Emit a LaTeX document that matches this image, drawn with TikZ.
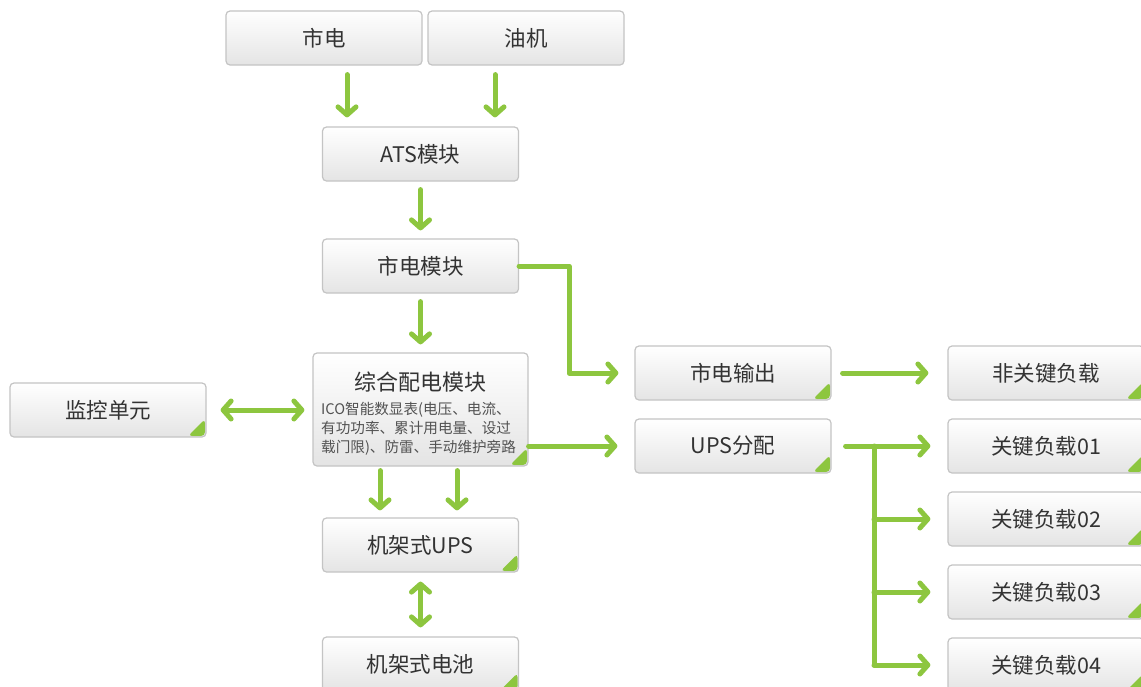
\documentclass[tikz,border=0pt]{standalone}
\usepackage{fontspec}
\newfontfamily\cjk{Noto Sans CJK SC}
\usetikzlibrary{arrows.meta,calc}
\definecolor{grn}{HTML}{8DC63F}
\definecolor{boxline}{HTML}{C4C4C4}
\definecolor{boxbot}{HTML}{E4E4E4}
\definecolor{txt}{HTML}{333333}
\tikzset{
 box/.style={draw=boxline, line width=1.2pt, rounded corners=4pt, top color=white, bottom color=boxbot,
   text=txt, font=\cjk\fontsize{21.5}{24}\selectfont, minimum width=196pt, minimum height=54pt, inner sep=0pt},
 tri/.style={path picture={\fill[grn] ([xshift=-18pt,yshift=1pt]path picture bounding box.south east) -- ([xshift=-1pt,yshift=1pt]path picture bounding box.south east) -- ([xshift=-1pt,yshift=18pt]path picture bounding box.south east) -- cycle;}},
 arr/.style={draw=grn, line width=5pt, line cap=round, line join=round,
   -{Straight Barb[length=8pt,width=18pt,line cap=round,line join=round]}},
 darr/.style={draw=grn, line width=5pt, line cap=round, line join=round,
   {Straight Barb[length=8pt,width=18pt,line cap=round,line join=round]}-{Straight Barb[length=8pt,width=18pt,line cap=round,line join=round]}},
 lbl/.style={text=txt, inner sep=0pt},
}
\begin{document}
\begin{tikzpicture}[x=1pt,y=-1pt]
\useasboundingbox (0,0) rectangle (1141,686);
\fill[white] (0,0) rectangle (1141,686);
% boxes
\node[box] (sd) at (324,38) {市电};
\node[box] (yj) at (526,38) {油机};
\node[box] (ats) at (420.5,154) {ATS模块};
\node[box] (sdm) at (420.5,266) {市电模块};
\node[box,tri,minimum width=215pt,minimum height=113pt] (zh) at (420.5,409.5) {};
\node[lbl,font=\cjk\fontsize{22}{26}\selectfont] (zht) at (420.5,382) {综合配电模块};
\node[lbl,anchor=north west,align=left,font=\cjk\fontsize{14.6}{19}\selectfont,text=txt!85] (zhd) at (321,402) {ICO智能数显表(电压、电流、\\有功功率、累计用电量、设过\\载门限)、防雷、手动维护旁路};
\node[box,tri] (jk) at (108,410) {监控单元};
\node[box,tri] (ups) at (420.5,545) {机架式UPS};
\node[box,tri] (bat) at (420.5,664) {机架式电池};
\node[box,tri] (sdo) at (733,373) {市电输出};
\node[box,tri] (upf) at (733,446) {UPS分配};
\node[box,tri] (fgj) at (1046,373) {非关键负载};
\node[box,tri] (g1) at (1046,446) {关键负载01};
\node[box,tri] (g2) at (1046,519) {关键负载02};
\node[box,tri] (g3) at (1046,592) {关键负载03};
\node[box,tri] (g4) at (1046,665) {关键负载04};
\coordinate (br) at (874,446);
% connectors
\draw[arr] (sd.south -| 347,0) ++(0,9) -- ($(ats.north -| 347,0)+(0,-9)$);
\draw[arr] (yj.south -| 495,0) ++(0,9) -- ($(ats.north -| 495,0)+(0,-9)$);
\draw[arr] (ats.south) ++(0,8) -- ($(sdm.north)+(0,-8)$);
\draw[arr] (sdm.south) ++(0,8) -- ($(zh.north)+(0,-8)$);
\draw[arr] (sdm.east) -- (569,266) -- (569,373) -- ($(sdo.west)+(-16,0)$);
\draw[darr] (jk.east) ++(14,0) -- ($(zh.west |- jk.east)+(-8,0)$);
\draw[arr] (zh.east |- upf.west) -- ($(upf.west)+(-17,0)$);
\draw[arr] (zh.south -| 380,0) ++(0,4) -- ($(ups.north -| 380,0)+(0,-7)$);
\draw[arr] (zh.south -| 457,0) ++(0,4) -- ($(ups.north -| 457,0)+(0,-7)$);
\draw[darr] (ups.south) ++(0,9) -- ($(bat.north)+(0,-9)$);
\draw[arr] (sdo.east) ++(11,0) -- ($(fgj.west)+(-19,0)$);
\draw[arr] (upf.east) ++(14,0) -- ($(g1.west)+(-17,0)$);
\draw[draw=grn,line width=5pt,line cap=round] (br) -- (br |- g4.west);
\draw[arr] (br |- g2.west) -- ($(g2.west)+(-17,0)$);
\draw[arr] (br |- g3.west) -- ($(g3.west)+(-17,0)$);
\draw[arr] (br |- g4.west) -- ($(g4.west)+(-17,0)$);
\end{tikzpicture}
\end{document}
